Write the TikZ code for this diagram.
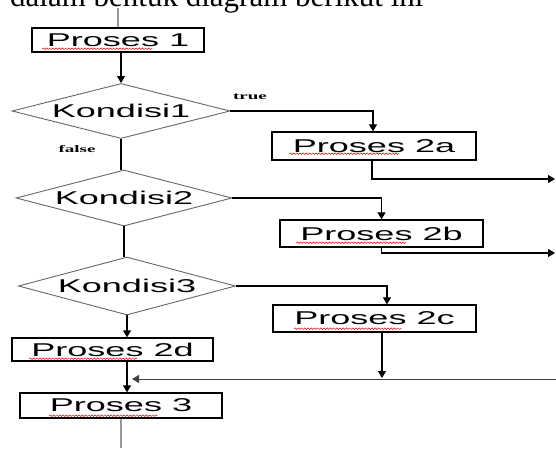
\documentclass[tikz,border=0pt]{standalone}
\usepackage{graphicx}
\usepackage{fontspec}
\setmainfont{Liberation Serif}
\newfontfamily\flowfont{Liberation Sans}
\usetikzlibrary{arrows.meta,shapes.geometric,decorations.pathmorphing,calc}

% horizontally stretched label text
\newcommand{\sx}[1]{\scalebox{1.95}[1]{#1}}
\newcommand{\lx}[1]{\scalebox{1.9}[1]{#1}}

\begin{document}
\begin{tikzpicture}[x=1pt,y=-1pt,
  proc/.style={draw=black, line width=1.3pt, rectangle, inner sep=0pt,
    font=\flowfont\fontsize{18.5}{20}\selectfont},
  cond/.style={draw=black!60, line width=0.9pt, diamond, aspect=4, inner sep=0pt,
    font=\flowfont\fontsize{18.5}{20}\selectfont},
  link/.style={line width=1.1pt, black},
  arr/.style={link, -{Triangle[width=8pt,length=7pt]}},
  lbl/.style={font=\bfseries\fontsize{10}{10}\selectfont, inner sep=0pt},
  spell/.style={red!85!black, line width=0.5pt, decorate,
    decoration={snake, amplitude=0.8pt, segment length=3.2pt}},
  lead/.style={black!40, line width=1.5pt}]

\useasboundingbox (0,0) rectangle (556,448);
\clip (0,0) rectangle (556,448);

% running text above the chart
\node[anchor=base west, inner sep=0pt, font=\fontsize{31}{31}\selectfont] (intro) at (10,6)
  {dalam bentuk diagram berikut ini};

% process boxes and decisions
\node[proc, minimum width=172pt, minimum height=24pt] (p1)  at (118,40)    {\sx{Proses 1}};
\node[cond, minimum width=218pt, minimum height=55pt] (k1)  at (121,111)   {\sx{Kondisi1}};
\node[proc, minimum width=204pt, minimum height=28pt] (p2a) at (374,146)   {\sx{Proses 2a}};
\node[cond, minimum width=216pt, minimum height=56pt] (k2)  at (124,198)   {\sx{Kondisi2}};
\node[proc, minimum width=203pt, minimum height=27pt] (p2b) at (381.5,233.5) {\sx{Proses 2b}};
\node[cond, minimum width=217pt, minimum height=58pt] (k3)  at (127,286)   {\sx{Kondisi3}};
\node[proc, minimum width=203pt, minimum height=27pt] (p2c) at (374.5,318.5) {\sx{Proses 2c}};
\node[proc, minimum width=201pt, minimum height=23pt] (p2d) at (112.5,349.5) {\sx{Proses 2d}};
\node[proc, minimum width=202pt, minimum height=25pt] (p3)  at (121,405.5) {\sx{Proses 3}};

% branch labels
\node[lbl] (ltrue)  at (250,96.5) {\lx{true}};
\node[lbl] (lfalse) at (77,149)   {\lx{false}};

% free ends
\coordinate (top)    at (118,8);
\coordinate (bottom) at (121,448);
\coordinate (outa)   at (555,179);
\coordinate (outb)   at (555,253);
\coordinate (join)   at (382,378);
\coordinate (rightin) at (556,379);
\coordinate (merge)  at (132,379);

% main column
\draw[lead] (top) -- (p1.north);
\draw[arr] (k1.north |- p1.south) -- (k1.north);
\draw[link] (k1.south) -- (k1.south |- k2.north);
\draw[link] (k2.south) -- (k2.south |- k3.north);
\draw[arr] (k3.south) -- (k3.south |- p2d.north);
\draw[arr] (p2d.south -| k3.south) -- (p3.north -| k3.south);
\draw[lead] (p3.south) -- (bottom);

% true branches
\draw[arr] (k1.east) -| ([xshift=-1pt]p2a.north);
\draw[arr] (k2.east) -| (p2b.north);
\draw[arr] (k3.east) -| ([xshift=12.5pt]p2c.north);

% outgoing flows
\draw[arr] ([xshift=-2pt]p2a.south) |- (outa);
\draw[arr] (p2b.south) |- (outb);
\draw[arr] ([xshift=7.5pt]p2c.south) -- (join);
\draw[arr, line width=1pt, black!75] (rightin) -- (merge);

% spell-check underlines
\draw[spell] ($(p1.south west)+(11,-4)$)  -- ++(110,0);
\draw[spell] ($(p2a.south west)+(18,-7)$) -- ++(110,0);
\draw[spell] ($(p2b.south west)+(17,-5)$) -- ++(110,0);
\draw[spell] ($(p2c.south west)+(22,-4)$) -- ++(107,0);
\draw[spell] ($(p2d.south west)+(18,-3)$) -- ++(108,0);
\draw[spell] ($(p3.south west)+(30,-3)$)  -- ++(108,0);
\end{tikzpicture}
\end{document}
